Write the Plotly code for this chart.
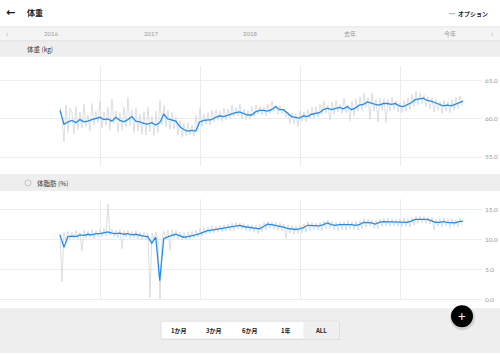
import pandas as pd
import plotly.graph_objects as go

W, H = 500, 355

# ---------------- data ----------------
start_date, end_date = "2016-08-07", "2020-08-18"

weight_trend = [61.1, 59.3, 59.6, 59.8, 59.5, 59.9, 59.6, 59.7, 59.9, 60.1, 60.2, 59.9, 60.0, 59.7, 60.2,
                59.8, 59.6, 59.9, 60.3, 59.7, 59.6, 59.4, 59.3, 59.5, 59.2, 59.5, 60.6, 60.0, 59.8, 59.7,
                59.0, 58.6, 58.4, 58.5, 58.4, 59.6, 59.8, 59.9, 59.9, 60.2, 60.4, 60.3, 60.5, 60.7, 60.8,
                60.9, 60.7, 60.5, 60.5, 60.9, 61.1, 61.1, 61.0, 61.2, 61.6, 61.2, 61.2, 60.8, 60.3, 60.2,
                60.1, 60.4, 60.3, 60.6, 60.7, 60.8, 61.2, 61.4, 61.2, 61.4, 61.5, 61.3, 61.6, 61.2, 61.4,
                61.8, 61.9, 62.2, 62.0, 61.9, 61.8, 62.0, 62.0, 61.9, 62.0, 61.7, 61.6, 61.8, 62.1, 62.5,
                62.6, 62.7, 62.4, 62.3, 62.1, 61.9, 61.7, 61.8, 61.7, 61.9, 62.1, 62.3]

weight_raw = [61.5, 60.2, 57.0, 61.8, 58.2, 61.4, 60.8, 58.0, 61.6, 58.6, 60.9, 58.8, 61.9, 59.0, 60.5, 58.4,
              62.0, 59.2, 61.0, 59.5, 62.3, 58.8, 60.9, 59.2, 61.5, 58.5, 62.6, 59.4, 61.0, 58.3, 60.8, 58.5,
              61.5, 58.9, 62.8, 59.1, 61.2, 58.2, 61.4, 58.4, 60.6, 58.0, 60.9, 57.9, 61.5, 58.3, 60.3, 57.8,
              61.0, 58.2, 62.4, 59.2, 61.8, 59.0, 61.1, 58.6, 60.9, 58.7, 60.2, 57.9, 59.8, 57.6, 59.4, 57.8,
              59.5, 57.9, 59.2, 57.7, 60.5, 58.6, 61.4, 59.0, 60.6, 59.3, 60.8, 59.2, 61.1, 59.6, 61.2, 59.8,
              61.0, 59.7, 61.4, 59.8, 61.3, 60.1, 61.8, 60.3, 61.5, 60.4, 62.0, 60.0, 61.3, 59.9, 61.1, 60.0,
              61.6, 60.3, 61.8, 60.6, 61.6, 60.5, 61.5, 60.4, 61.9, 60.7, 62.3, 61.0, 61.8, 60.6, 61.7, 60.7,
              61.3, 60.2, 60.9, 59.4, 60.7, 59.3, 60.6, 59.0, 61.0, 59.7, 60.9, 59.6, 61.2, 60.0, 61.5, 60.1,
              61.6, 60.2, 61.9, 60.6, 62.3, 60.7, 61.8, 59.8, 62.2, 60.6, 62.4, 60.9, 61.9, 60.7, 62.7, 60.8,
              61.8, 59.7, 62.3, 60.4, 62.6, 61.0, 62.9, 61.1, 63.3, 61.5, 62.8, 60.0, 63.4, 61.0, 62.5, 59.6,
              62.7, 61.1, 62.6, 59.5, 62.5, 61.0, 62.8, 61.2, 62.3, 60.9, 62.1, 60.8, 62.4, 61.0, 62.7, 61.2,
              63.2, 61.6, 63.6, 61.8, 63.4, 62.0, 63.1, 61.6, 62.9, 61.3, 62.7, 60.9, 62.5, 61.1, 62.3, 60.7,
              62.4, 61.0, 62.2, 60.8, 62.5, 61.1, 62.8, 61.3, 63.0, 61.6]

fat_trend = [10.8, 8.7, 10.5, 10.6, 10.5, 10.8, 10.7, 10.9, 10.8, 11.0, 11.0, 11.2, 11.3, 11.1, 11.0,
             11.1, 10.9, 11.0, 10.8, 10.9, 10.7, 10.6, 10.5, 9.4, 10.4, 3.1, 10.2, 10.5, 10.7, 10.9,
             10.7, 10.4, 10.5, 10.6, 10.8, 11.0, 11.3, 11.5, 11.6, 11.7, 11.8, 11.9, 12.0, 12.1, 12.3,
             12.4, 12.2, 12.1, 12.0, 11.8, 11.8, 12.2, 12.6, 12.5, 12.4, 12.3, 12.1, 11.9, 11.8, 11.7,
             11.8, 12.0, 12.4, 12.4, 12.3, 12.3, 12.5, 12.8, 12.5, 12.4, 12.5, 12.5, 12.6, 12.5, 12.4,
             12.5, 12.9, 12.9, 12.8, 12.6, 12.9, 13.0, 13.0, 13.0, 13.0, 12.9, 13.0, 12.9, 13.1, 13.4,
             13.4, 13.4, 13.4, 13.2, 12.9, 12.9, 13.0, 12.9, 12.9, 12.8, 13.0, 13.1]

fat_raw = [10.9, 3.0, 11.2, 9.8, 11.4, 10.0, 11.3, 10.2, 11.5, 10.1, 11.2, 8.1, 11.6, 10.2, 11.4, 10.3,
           11.7, 10.1, 11.5, 10.4, 11.8, 10.5, 11.9, 10.6, 16.0, 10.7, 11.8, 10.5, 11.6, 10.3, 11.7, 8.5,
           11.5, 10.4, 11.6, 10.2, 11.4, 10.3, 11.5, 10.1, 11.3, 9.9, 11.2, 10.0, 11.0, 0.3, 11.1, 9.9,
           11.3, 10.0, 0.1, 10.1, 11.4, 10.0, 11.6, 8.2, 11.7, 10.2, 11.5, 10.1, 11.3, 9.9, 11.2, 10.0,
           11.3, 10.1, 11.4, 10.2, 11.6, 10.4, 11.9, 10.6, 12.0, 10.9, 12.1, 11.0, 12.3, 11.1, 12.2, 11.2,
           12.4, 11.3, 12.5, 11.4, 12.6, 11.5, 12.8, 11.6, 12.9, 11.8, 12.8, 11.7, 12.7, 11.5, 12.6, 11.4,
           12.5, 11.2, 12.4, 11.0, 12.6, 11.3, 12.9, 11.6, 13.1, 11.9, 13.0, 11.8, 12.9, 11.6, 12.8, 11.5,
           12.6, 10.2, 12.5, 11.1, 12.4, 10.9, 12.3, 11.0, 12.4, 11.1, 12.6, 11.3, 13.0, 11.6, 12.9, 11.7,
           12.8, 11.6, 12.9, 11.5, 13.1, 11.8, 13.3, 11.9, 13.1, 11.6, 12.9, 11.5, 13.0, 11.7, 13.1, 11.6,
           13.2, 11.8, 13.0, 11.7, 13.1, 11.6, 13.2, 11.8, 13.5, 12.1, 13.4, 12.2, 13.3, 11.9, 13.2, 11.8,
           13.4, 12.2, 13.5, 12.3, 13.6, 12.2, 13.5, 12.3, 13.4, 12.2, 13.5, 12.1, 13.6, 12.2, 13.5, 12.1,
           13.7, 12.4, 13.9, 12.7, 14.0, 12.8, 13.9, 12.7, 13.8, 12.6, 13.7, 11.6, 13.4, 12.2, 13.5, 12.1,
           13.6, 12.3, 13.4, 12.0, 13.5, 12.2, 13.3, 12.1, 13.6, 12.4]

year_lines = ["2017-01-01", "2018-01-01", "2019-01-01", "2020-01-01"]
year_labels = ["2016", "2017", "2018", "去年", "今年"]
weight_ticks = [55, 60, 65]
fat_ticks = [0, 5, 10, 15]
range_buttons = ["1か月", "3か月", "6か月", "1年", "ALL"]

trend_dates = pd.date_range(start_date, end_date, periods=len(weight_trend))
raw_dates_w = pd.date_range(start_date, "2020-08-14", periods=len(weight_raw))
raw_dates_f = pd.date_range(start_date, "2020-08-14", periods=len(fat_raw))

# ---------------- helpers ----------------
def px(x):
    return x / W

def py(y):
    return 1 - y / H

FONT = "Lato, 'Noto Sans CJK JP', sans-serif"
JP = "'Noto Sans CJK JP', Lato, sans-serif"
GRAY_LINE = "#d3d6d8"
BLUE = "#1f8ef1"
GRID = "#ececec"

fig = go.Figure()
fig.add_trace(go.Scatter(x=raw_dates_w, y=weight_raw, mode="lines",
                         line=dict(color=GRAY_LINE, width=0.8), xaxis="x", yaxis="y", hoverinfo="skip"))
fig.add_trace(go.Scatter(x=trend_dates, y=weight_trend, mode="lines",
                         line=dict(color=BLUE, width=1.3), xaxis="x", yaxis="y"))
fig.add_trace(go.Scatter(x=raw_dates_f, y=fat_raw, mode="lines",
                         line=dict(color=GRAY_LINE, width=0.8), xaxis="x2", yaxis="y2", hoverinfo="skip"))
fig.add_trace(go.Scatter(x=trend_dates, y=fat_trend, mode="lines",
                         line=dict(color=BLUE, width=1.3), xaxis="x2", yaxis="y2"))

# plot area ends at x=482 px; 100 px per year starting at 2016-01-01
xcommon = dict(type="date", range=["2016-01-01", "2020-10-26"], showgrid=True, gridcolor=GRID,
               gridwidth=1, tickvals=year_lines, showticklabels=False, zeroline=False,
               showline=False, ticks="", fixedrange=True)
ycommon = dict(showgrid=True, gridcolor=GRID, gridwidth=1, zeroline=False, showline=False,
               side="right", ticklabelposition="outside", ticks="", ticklabelstandoff=2,
               tickfont=dict(family=FONT, size=6.5, color="#9a9a9a"), fixedrange=True)

XDOM = [0, 482 / W]
fig.update_layout(
    width=W, height=H, margin=dict(l=0, r=0, t=0, b=0),
    paper_bgcolor="white", plot_bgcolor="white", showlegend=False,
    xaxis=dict(domain=XDOM, anchor="y", **xcommon),
    yaxis=dict(domain=[py(167), py(66)], anchor="x", range=[53.83, 66.95],
               tickvals=weight_ticks, ticktext=[f"{v:.1f}" for v in weight_ticks], **ycommon),
    xaxis2=dict(domain=XDOM, anchor="y2", **xcommon),
    yaxis2=dict(domain=[py(302), py(200)], anchor="x2", range=[-0.17, 16.83],
                tickvals=fat_ticks, ticktext=[f"{v:.1f}" for v in fat_ticks], **ycommon),
)

shapes = []
def rect(x0, y0, x1, y1, fill, line=None, layer="below"):
    shapes.append(dict(type="rect", xref="paper", yref="paper", x0=px(x0), x1=px(x1),
                       y0=py(y1), y1=py(y0), fillcolor=fill,
                       line=dict(width=0 if line is None else 1, color=line or fill), layer=layer))

rect(0, 27, 500, 41, "#f4f4f4")
rect(0, 41, 500, 57, "#eeeeee")
rect(0, 175, 500, 192, "#eeeeee")
rect(0, 310, 500, 355, "#eeeeee")
shapes.append(dict(type="line", xref="paper", yref="paper", x0=0, x1=1, y0=py(27), y1=py(27),
                   line=dict(color="#e4e4e4", width=1)))
shapes.append(dict(type="line", xref="paper", yref="paper", x0=0, x1=1, y0=py(41), y1=py(41),
                   line=dict(color="#e2e2e2", width=1)))
# segmented control
rect(162, 324, 340, 342, "#dcdcdc", layer="above")
rect(161, 323, 339, 341, "white", line="#e0e0e0", layer="above")
rect(303.4, 323.5, 338.5, 340.5, "#f0f0f0", layer="above")
# icon circle
shapes.append(dict(type="circle", xref="paper", yref="paper", x0=px(25), x1=px(31),
                   y0=py(187), y1=py(181), line=dict(color="#b8b8b8", width=0.8)))
# floating button
shapes.append(dict(type="circle", xref="paper", yref="paper", x0=px(450), x1=px(475),
                   y0=py(332), y1=py(307), fillcolor="rgba(0,0,0,0.12)", line=dict(width=0)))
shapes.append(dict(type="circle", xref="paper", yref="paper", x0=px(451), x1=px(473),
                   y0=py(329), y1=py(307), fillcolor="black", line=dict(width=0)))
fig.update_layout(shapes=shapes)

ann = []
def text(t, x, y, size, color="#222", anchor="center", family=JP, bold=False):
    ann.append(dict(text=f"<b>{t}</b>" if bold else t, x=px(x), y=py(y), xref="paper", yref="paper",
                    showarrow=False, xanchor=anchor, yanchor="middle",
                    font=dict(family=family, size=size, color=color)))

text("<b>←</b>", 10, 13, 11, "#111", family="DejaVu Sans")
text("体重", 25, 13, 8, "#222", anchor="left", bold=True)
text("···", 457, 13.5, 8, "#777", anchor="right", family="Lato")
text("オプション", 490, 14, 6, "#222", anchor="right", bold=True)
text("‹", 7, 34, 9, "#bbbbbb", family=FONT)
text("›", 492, 34, 9, "#bbbbbb", family=FONT)
for i, lab in enumerate(year_labels):
    text(lab, 51 + i * 99.7, 34, 6, "#9a9a9a", family=FONT)
text("体重 (kg)", 25, 49, 6.5, "#333", anchor="left")
text("体脂肪 (%)", 35, 184, 6.5, "#333", anchor="left")
seg_w = (339 - 161) / len(range_buttons)
for i, lab in enumerate(range_buttons):
    text(lab, 161 + seg_w * (i + 0.5), 332, 6, "#222", bold=True)
text("+", 462, 317.5, 13, "white", family=FONT)
fig.update_layout(annotations=ann)

fig.write_html("out.html")
